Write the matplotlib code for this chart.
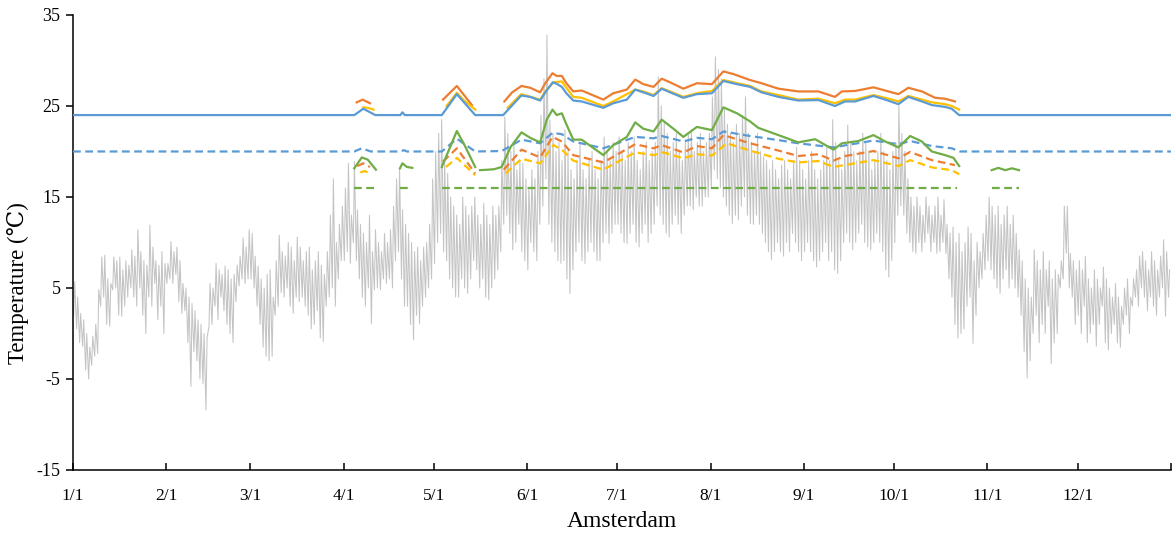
# Amsterdam: outdoor temperature and comfort band limits over a year
import numpy as np
import matplotlib
matplotlib.use("Agg")
import matplotlib.pyplot as plt

nan = np.nan

# daily outdoor temperature, min and max per day (deg C)
tmin = [
    # Jan
    2, 0.5, -1, -1.4, -4, -5, -3.5, -2.5, -2.2, 3, 4, 1, 0.8, 4.8, 5, 2, 1.9, 3, 4, 5, 4, 3, 5, 2, 0, 4, 3, 5.5, 1.5, 3, 0,
    # Feb
    5.5, 6, 5.5, 6.5, 3.5, 2.2, 2.5, -1, -5.8, -2, -3, -5, -5.5, -8.4, 0.8, 1, 3, 1.5, 4, 2.5, 1, 0, -1, 3.5, 5.2, 6, 5.5, 6,
    # Mar
    6, 5, 3, 1, -1.5, -2.5, -3, -2.5, 2, 3, 4.5, 4, 5, 3, 2.2, 4, 3.5, 4, 3, 2, 0.5, 1, 2.5, -0.5, -0.9, 3, 4, 5, 3, 6, 8,
    # Apr
    8, 9, 7.7, 10, 8, 6, 4, 3, 5, 1.1, 4.8, 5, 4.8, 6, 5.5, 6, 5, 8, 9, 6, 3, 3, 1, -0.7, 2, 1.1, 3, 4, 5, 6,
    # May
    7.7, 10, 11, 9, 8, 6, 5, 4, 4, 6, 5, 4.4, 6, 8, 7, 5, 6, 4, 3.7, 5, 6, 7, 9, 12, 13, 11, 9.2, 10, 12, 9, 8,
    # Jun
    7, 10, 9, 8, 12, 14, 17, 12, 10, 9, 8, 7.7, 8, 6, 4.4, 7, 9, 10, 8, 7.7, 9, 10, 9, 8, 8, 10, 11, 9.9, 11, 12,
    # Jul
    12, 11, 10, 9.9, 11, 12, 10, 9.5, 11, 12, 10, 11, 12, 14, 13, 12, 11, 10.6, 12, 13, 12, 11, 13, 14, 14, 13.6, 15, 14, 14, 15, 15,
    # Aug
    16, 18, 17, 16, 15, 14, 13, 12.1, 13, 12.5, 14, 15, 13, 12.1, 12, 13, 12, 11, 10, 9, 8.1, 9, 10, 9, 8.5, 10, 9, 11, 10, 9, 8,
    # Sep
    9, 10, 9, 8, 7.3, 8, 9, 10, 8, 9, 7, 6.6, 8, 10, 11, 10, 9.2, 10, 11, 12, 10, 9.5, 9.2, 10, 11, 10, 9, 7, 6.2, 8,
    # Oct
    10, 13, 14, 13, 11, 10, 9, 8.8, 10, 9, 10, 11, 9, 10, 8.8, 9, 10, 8.8, 6, 4, 1, -0.5, 0, 0.5, 3, 4, -1.1, 2, 5, 6, 7,
    # Nov
    8, 7, 6, 5, 4.4, 6, 7, 5, 6, 5, 4, 2, -2, -4.9, -3, 0, 2, -1, 1, 0, 3, -3.3, -1, 0, 5, 6, 8.8, 5, 4, 1,
    # Dec
    2, 0, 3, -1, 0, 1, -1.4, 1, 3, -1, -1.8, 0, 1, -1, -1.5, 1, 2, 0, 3, 4, 3, 5, 4, 2.5, 4, 3, 2, 4, 5, 1.9, 4,
]
tmax = [
    # Jan
    5.7, 4, 2.2, 1.5, 0, -1.5, -0.3, 1, 4.8, 8.4, 8.6, 6, 5.5, 8.4, 8, 8.4, 7, 8, 7.5, 9.2, 8.5, 11.4, 9, 8, 7.5, 11.9, 9.5, 8, 7.5, 9, 7.7,
    # Feb
    7.7, 10.1, 9, 9.5, 8, 5.5, 5, 4, 3.3, 2.5, 1.5, 1, 0, -0.5, 5.5, 5, 7.7, 7, 6.5, 7.4, 7, 6, 6.5, 7.5, 8.5, 10.5, 9.5, 11.4,
    # Mar
    11, 8.5, 7.4, 6, 5, 6.5, 7, 4, 8, 10.8, 9, 8.5, 10, 9.5, 8, 10.6, 9.5, 8, 9, 9.5, 7, 8, 9, 7.5, 6.5, 9, 13, 17, 10, 12, 14,
    # Apr
    16, 18.7, 13, 18.9, 13.6, 12, 11, 10, 13, 9, 11.4, 10, 9, 11, 10, 11.4, 14, 17, 18.1, 13.6, 12, 11, 10, 9, 9.5, 8, 9.5, 10, 12, 17,
    # May
    20, 22, 23.5, 19, 17.6, 15, 14, 13, 12, 15, 14, 13, 14, 15, 13, 12, 14.3, 13, 12, 14, 13, 14, 19, 23.8, 22, 20, 21, 18, 19, 18.7, 17,
    # Jun
    16, 18, 17, 20, 24, 28, 32.8, 23.5, 22, 20, 21, 19, 22.4, 20, 18, 17, 19, 20.9, 18, 17, 19, 20, 18, 17, 19, 21.6, 20, 19, 21, 20,
    # Jul
    21.6, 20, 19, 21, 20, 21.6, 19, 18, 20, 21, 19, 20, 21, 28.2, 25, 23.1, 22, 20, 21, 22, 20, 19, 21, 22, 22.4, 20, 21, 22, 20, 21, 22,
    # Aug
    26, 30.4, 29, 28, 24.6, 23, 22, 21, 23, 22, 24, 26, 22, 21, 20, 22, 20, 19.4, 19, 18, 19, 18, 17, 18.5, 19, 18, 17, 19, 20.5, 19, 18,
    # Sep
    17, 19, 20, 18, 17, 18, 19, 20.5, 19, 23.5, 21, 19, 18, 20, 22.9, 21, 20, 19, 20, 22, 21, 20, 18, 19, 20, 22, 20, 19, 18, 20,
    # Oct
    21, 25, 22, 20, 17, 15, 14, 15, 14, 13, 15, 14, 13, 14, 15, 13, 14.7, 12, 11, 11.7, 10, 11, 9, 10, 11.7, 11, 8, 10, 9, 11, 13,
    # Nov
    15, 14, 13, 14, 12, 13, 14, 12, 13, 11, 9.2, 8, 6, 5, 4, 9.2, 8, 7, 9, 7, 8, 6, 7, 6.5, 8, 14, 14, 8.8, 8, 7,
    # Dec
    8, 7, 8.5, 6, 5, 7, 6, 5, 7.3, 6, 5, 4, 5.5, 4, 3, 5, 6, 4, 6, 7, 8.5, 9, 8, 7, 9, 8, 7, 8.5, 10.3, 9, 7,
]

# comfort limits (day of year, deg C); nan splits a line into pieces
blue_up_day = [0, 93.5, 96.5, 100.5, 108.8, 109.5, 110.3, 122.6, 127.6, 133.7, 143, 149, 152, 155.3, 157, 159.5, 161,
               162.5, 164, 166.3, 169.1, 176.3, 179.6, 184.1, 186.9, 189.6, 193, 195.7, 198.5, 202.9, 207.4, 212.4,
               216.2, 220.7, 225.1, 228.9, 234.5, 241.1, 247.8, 253.3, 256.7, 260, 266.1, 270, 274.4, 277.7, 282.2,
               285.5, 289.9, 292.1, 294.6, 365]
blue_up_val = [24, 24, 24.7, 24, 24, 24.3, 24, 24, 26.3, 24, 24, 26.15, 26.0, 25.6, 26.5, 27.6, 27.4,
               27.1, 26.4, 25.6, 25.5, 24.8, 25.3, 25.7, 26.8, 26.5, 26.1, 26.9, 26.5, 25.9, 26.3, 26.4,
               27.75, 27.4, 27.1, 26.5, 26.0, 25.6, 25.65, 25.0, 25.5, 25.5, 26.1, 25.7, 25.2, 26.0, 25.5,
               25.1, 24.9, 24.7, 24.0, 24]

orange_up_day = [94.3, 96.3, 98.7, nan, 123, 127.6, 132.6, nan, 143.4, 146, 149.1, 152, 155.3, 157, 159.4, 160.8,
                 162.5, 164, 166.3, 169.1, 176.3, 179.6, 184.1, 186.9, 189.6, 193, 195.7, 198.5, 202.9, 207.4,
                 212.4, 216.2, 219.6, 225.1, 228.9, 234.5, 241.1, 247.8, 253.3, 255.6, 260, 266.1, 270, 274.4,
                 277.7, 282.2, 286.6, 289.9, 293.2]
orange_up_val = [25.4, 25.7, 25.3, nan, 25.7, 27.2, 25.1, nan, 25.5, 26.5, 27.2, 27.0, 26.5, 27.5, 28.6, 28.3,
                 28.3, 27.5, 26.6, 26.7, 25.7, 26.4, 26.8, 27.9, 27.4, 27.1, 28.0, 27.6, 26.9, 27.5,
                 27.4, 28.8, 28.5, 27.85, 27.5, 26.9, 26.6, 26.6, 26.0, 26.6, 26.65, 27.05, 26.7, 26.3,
                 27.0, 26.6, 25.9, 25.8, 25.5]

yellow_up_day = [96.5, 98, 99.9, nan, 124.2, 127.6, 130, 133.7, nan, 144.5, 149, 155.3, 157, 159.7, 162.5, 164,
                 166.3, 169.1, 176.3, 179.6, 186.9, 189.6, 193, 195.7, 198.5, 202.9, 207.4, 212.4, 216.2, 219.6,
                 225.1, 228.9, 234.5, 241.1, 247.8, 253.3, 256.7, 260, 266.1, 270, 274.4, 277.7, 285.5, 289.9,
                 292.1, 294.6]
yellow_up_val = [24.85, 24.8, 24.6, nan, 25.0, 26.45, 25.6, 24.6, nan, 24.8, 26.3, 25.7, 26.6, 27.6, 27.7, 27.0,
                 26.0, 25.9, 25.0, 25.5, 26.8, 26.6, 26.2, 26.95, 26.6, 26.0, 26.4, 26.65, 27.85, 27.6,
                 27.2, 26.6, 26.2, 25.7, 25.8, 25.3, 25.7, 25.7, 26.2, 25.9, 25.5, 26.1, 25.4, 25.2,
                 25.0, 24.6]

green_day = [93.5, 96, 98, 100.7, nan, 108.7, 109.5, 111, 112.8, nan, 122.6, 127.6, 130, 133.7, nan,
             135.3, 138, 140, 142.5, 145.5, 149.1, 152, 155.3, 157.5, 159.4, 160.8, 162.5, 164, 166.3, 169.1,
             176.3, 179.6, 184.1, 186.9, 189.6, 193, 195.7, 199.6, 202.9, 207.4, 212.4, 216.2, 220.7, 225.1,
             227.8, 234.5, 241.1, 246.7, 252.8, 255.6, 261.1, 266.1, 270, 274.4, 278.3, 282.2, 285.5, 289.9,
             292.7, 294.6, nan, 305.4, 307.6, 309.9, 312.1, 314.5]
green_val = [18.15, 19.35, 19.1, 18.0, nan, 18.15, 18.7, 18.3, 18.2, nan, 18.3, 22.25, 20.8, 18.3, nan,
             17.95, 18.0, 18.05, 18.3, 20.5, 22.1, 21.5, 21.0, 23.5, 24.6, 24.0, 24.2, 23.0, 21.3, 21.3,
             19.6, 20.7, 21.6, 23.2, 22.5, 22.2, 23.5, 22.5, 21.6, 22.7, 22.35, 24.85, 24.2, 23.3,
             22.6, 21.8, 21.0, 21.35, 20.2, 20.9, 21.15, 21.8, 21.1, 20.45, 21.7, 21.1, 20.0, 19.6,
             19.3, 18.4, nan, 17.95, 18.2, 17.95, 18.15, 17.95]

blue_low_day = [0, 93.5, 96, 99, 109, 110, 111, 122.6, 127.6, 133.7, 142.5, 149.1, 155.3, 159.4, 162.5, 166.3,
                176.3, 186.9, 193, 195.7, 202.9, 207.4, 212.4, 216.2, 225.1, 234.5, 241.1, 252.8, 266.1, 274.4,
                278.3, 285.5, 292.1, 294.9, 365]
blue_low_val = [20, 20, 20.35, 20.0, 20, 20.15, 20, 20, 21.4, 20, 20.05, 21.3, 20.9, 22.05, 21.9, 21.1,
                20.35, 21.6, 21.45, 21.7, 21.1, 21.5, 21.35, 22.2, 21.7, 21.25, 20.9, 20.45, 21.2, 20.8,
                21.15, 20.6, 20.35, 20.0, 20]

orange_low_day = [94.5, 96.5, 98.7, nan, 123, 127.6, 133.7, nan, 143.2, 149.1, 155.3, 159.4, 162.5, 166.3, 176.3,
                  186.9, 193, 195.7, 202.9, 207.4, 212.4, 216.2, 225.1, 234.5, 241.1, 247.8, 252.8, 256.7, 266.1,
                  274.4, 278.3, 285.5, 293.2]
orange_low_val = [18.4, 18.7, 18.3, nan, 18.9, 20.35, 17.6, nan, 18.0, 20.2, 19.35, 21.6, 21.1, 19.6, 18.8,
                  20.8, 20.35, 20.7, 19.9, 20.6, 20.35, 21.8, 20.9, 20.1, 19.5, 19.7, 19.0, 19.5, 20.05,
                  19.25, 19.95, 19.05, 18.5]

yellow_low_day = [95.5, 97, 99.3, nan, 124, 127.6, 133.7, nan, 143.8, 149.1, 155.3, 159.7, 162.5, 166.3, 176.3,
                  186.9, 193, 196.2, 202.9, 207.4, 212.4, 217.3, 225.1, 234.5, 241.1, 247.8, 252.8, 266.1, 274.4,
                  278.3, 285.5, 292.1, 294.6]
yellow_low_val = [17.7, 17.85, 17.5, nan, 18.3, 19.3, 17.4, nan, 17.6, 19.2, 18.7, 20.7, 20.2, 19.0, 18.0,
                  19.9, 19.6, 19.9, 19.25, 19.7, 19.55, 20.9, 20.1, 19.2, 18.8, 18.95, 18.3, 19.05, 18.4,
                  19.05, 18.25, 17.95, 17.5]

green_low_day = [93.5, 100.4, nan, 108.7, 112.8, nan, 122.6, 293.8, nan, 305.4, 314.5]
green_low_val = [16, 16, nan, 16, 16, nan, 16, 16, nan, 16, 16]

month_start = [0, 31, 59, 90, 120, 151, 181, 212, 243, 273, 304, 334]
month_label = ["1/1", "2/1", "3/1", "4/1", "5/1", "6/1", "7/1", "8/1", "9/1", "10/1", "11/1", "12/1"]
y_ticks = [35, 25, 15, 5, -5, -15]

BLUE = "#5B9BD5"
ORANGE = "#ED7D31"
YELLOW = "#FFC000"
GREEN = "#70AD47"
GREY = "#C4C4C4"


def outdoor_path():
    # hourly curve approximated as a daily swing: low in the morning, high in the afternoon
    xs, ys = [], []
    for d in range(len(tmin)):
        xs += [d + 0.2, d + 0.55]
        ys += [tmin[d], tmax[d]]
    return xs, ys


def main():
    plt.rcParams['font.family'] = ['Liberation Serif', 'DejaVu Serif']
    plt.rcParams['axes.unicode_minus'] = False

    fig = plt.figure(figsize=(11.74, 5.35), dpi=100)
    ax = fig.add_axes([0.0622, 0.1215, 0.9352, 0.8505])

    xs, ys = outdoor_path()
    ax.plot(xs, ys, color=GREY, lw=0.75, zorder=1)

    dash = (0, (3.5, 2))
    ax.plot(green_low_day, green_low_val, color=GREEN, lw=1.6, ls=dash, zorder=2)
    ax.plot(yellow_low_day, yellow_low_val, color=YELLOW, lw=1.6, ls=dash, zorder=2)
    ax.plot(orange_low_day, orange_low_val, color=ORANGE, lw=1.6, ls=dash, zorder=3)
    ax.plot(blue_low_day, blue_low_val, color=BLUE, lw=1.6, ls=dash, zorder=3)
    ax.plot(green_day, green_val, color=GREEN, lw=1.6, zorder=4)
    ax.plot(orange_up_day, orange_up_val, color=ORANGE, lw=1.6, zorder=4)
    ax.plot(yellow_up_day, yellow_up_val, color=YELLOW, lw=1.6, zorder=5)
    ax.plot(blue_up_day, blue_up_val, color=BLUE, lw=1.6, zorder=6)

    ax.set_xlim(0, 365)
    ax.set_ylim(-15, 35)
    ax.set_xticks(month_start + [365])
    ax.set_xticklabels(month_label + [""])
    ax.set_yticks(y_ticks)
    ax.set_yticklabels([str(v) for v in y_ticks])

    for s in ["top", "right"]:
        ax.spines[s].set_visible(False)
    for s in ["left", "bottom"]:
        ax.spines[s].set_linewidth(1.1)
        ax.spines[s].set_color("black")

    ax.tick_params(axis="x", direction="in", length=5, width=1.1, labelsize=12.5, pad=13)
    ax.tick_params(axis="y", direction="out", length=5, width=1.1, labelsize=13, pad=4)

    ax.set_xlabel("Amsterdam", fontsize=17, labelpad=5)
    ax.set_ylabel("Temperature (℃)", fontsize=16.5)
    ax.yaxis.set_label_coords(-0.040, 0.41)

    fig.savefig("out.png", dpi=100)


if __name__ == "__main__":
    main()
